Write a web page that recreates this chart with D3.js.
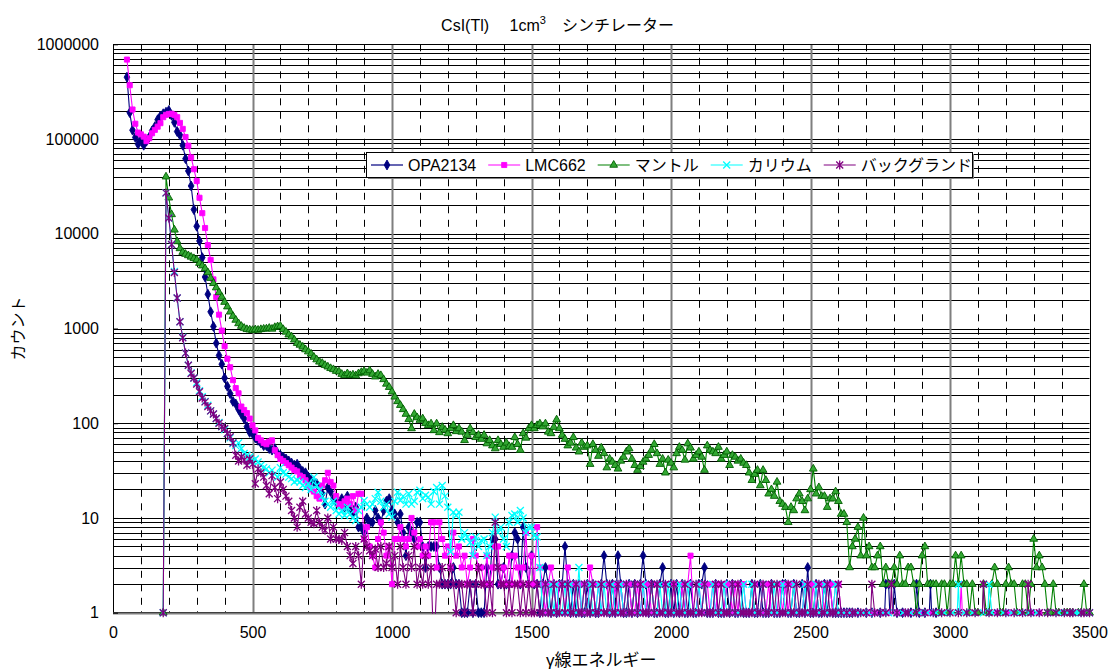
<!DOCTYPE html>
<html>
<head>
<meta charset="utf-8">
<script src="https://cdn.jsdelivr.net/npm/d3@7"></script>
<style>
  body { margin: 0; background: #fff; }
  text { font-family: 'Liberation Sans', 'Noto Sans CJK JP', sans-serif; }
</style>
</head>
<body>
<script>
// --- data: counts per 10 keV channel, each series starts at its own energy ---
const energyStep = 10;

const opaStart = 50;
const opa2134 = [
  450000, 190000, 124000, 104000, 88000, 99000, 86000, 95000, 105000, 122000,
  135000, 160000, 175000, 185000, 192000, 200000, 178000, 150000, 120000, 110000,
  86000, 62000, 46000, 32000, 18000, 12000, 8400, 5600, 3500, 2300,
  1500, 1050, 700, 520, 420, 300, 245, 205, 170, 160,
  140, 125, 112, 92, 80, 78, 70, 66, 62, 58,
  58, 54, 52, 54, 48, 46, 44, 42, 40, 38,
  36, 37, 33, 31, 30, 27, 25, 24, 23, 21,
  18, 14, 21, 19, 16, 15, 14, 16, 13, 17,
  12, 11, 13, 8, 8, 7, 10, 9, 9, 12,
  10, 9, 12, 15, 16, 12, 11, 9, 11, 7,
  4, 8, 7, 6, 9, 9, 5, 3, 5, 5,
  5, 5, 3, 2, 2, 2, 2, 3, 2, 2,
  1, 1, 1, 2, 1, 2, 1, 1, 1, 3,
  2, 6, 6, 2, 2, 3, 2, 2, 4, 7,
  6, 2, 8, 3, 2, 4, 2, 2, 1, 2,
  3, 2, 1, 2, 1, 2, 2, 5, 2, 1,
  2, 1, 2, 1, 1, 2, 1, 2, 1, 1,
  2, 4, 2, 1, 2, 1, 4, 2, 1, 1,
  2, 1, 2, 1, 2, 4, 2, 1, 2, 1,
  1, 2, 3, 1, 1, 2, 1, 2, 1, 2,
  1, 1, 2, 1, 1, 2, 2, 3, 1, 1,
  1, 2, 1, 1, 1, 2, 1, 2, 1, 1,
  2, 1, 1, 1, 2, 1, 1, 2, 1, 1,
  1, 2, 1, 1, 1, 2, 2, 1, 1, 2,
  1, 1, 2, 1, 3, 1, 1, 2, 1, 1,
  2, 1, 2, 1, 1, 1, 1, 1, 1, 1,
  1, 0, 1, 0, 0, 1, 0, 1, 0, 0,
  1, 0, 2, 2, 0, 2, 1, 0, 1, 0,
  0, 1, 0, 2, 1, 0, 1, 0, 2, 0,
  1
];

const lmcStart = 50;
const lmc662 = [
  690000, 370000, 205000, 145000, 117000, 112000, 106000, 95000, 102000, 115000,
  125000, 135000, 147000, 170000, 180000, 184000, 185000, 180000, 170000, 148000,
  128000, 105000, 85000, 64000, 48000, 36000, 24000, 16500, 11500, 7600,
  5300, 3300, 2150, 1400, 950, 650, 480, 390, 285, 235,
  207, 150, 138, 128, 112, 95, 84, 70, 66, 62,
  60, 64, 66, 52, 46, 42, 40, 38, 36, 34,
  32, 31, 28, 27, 25, 22, 20, 19, 17, 16,
  22, 25, 30, 24, 22, 17, 14, 13, 15, 16,
  14, 17, 12, 18, 18, 6, 8, 5, 4, 3,
  6, 9, 7, 4, 5, 2, 6, 6, 8, 6,
  5, 6, 10, 7, 5, 6, 4, 5, 4, 9,
  9, 3, 9, 6, 4, 5, 3, 7, 4, 5,
  3, 4, 2, 3, 6, 4, 3, 3, 2, 4,
  2, 3, 5, 5, 2, 3, 2, 4, 2, 4,
  3, 2, 3, 7, 2, 4, 2, 8, 3, 2,
  1, 2, 3, 2, 1, 2, 2, 1, 3, 2,
  1, 2, 2, 1, 2, 1, 3, 2, 1, 2,
  1, 2, 2, 1, 1, 2, 1, 2, 1, 2,
  2, 1, 1, 2, 1, 2, 1, 2, 1, 1,
  2, 1, 1, 2, 1, 1, 2, 1, 1, 2,
  1, 2, 4, 1, 1, 2, 1, 2, 2, 1,
  2, 1, 2, 2, 1, 2, 2, 1, 2, 1,
  2, 2, 1, 1, 1, 2, 1, 1, 2, 1,
  2, 1, 1, 1, 2, 1, 2, 1, 2, 2,
  1, 1, 1, 2, 2, 1, 2, 1, 2, 2,
  1, 2, 2, 1, 2, 2, 1, 1, 1, 1,
  1, 0, 1, 1, 0, 0, 1, 0, 1, 0,
  0, 1, 0, 1, 0, 0, 1, 0, 0, 1,
  0, 0, 1, 0, 1, 0, 0, 0, 1, 0,
  0, 1, 0, 0, 1, 0, 0, 0, 0, 2,
  0, 0, 1, 0, 0, 1, 0, 0, 0, 1,
  0, 0, 1, 0, 0, 0, 1, 0, 0, 0,
  1, 0, 0, 0, 1, 0, 0, 1, 0, 0,
  0, 1, 0, 0, 0, 1, 0, 0, 1, 0,
  0, 1, 0, 0, 1, 0
];

const mantleStart = 180;
const mantle = [
  1, 40000, 24000, 16000, 11000, 8300, 7000, 6400, 6100, 5900,
  5700, 5500, 5300, 4900, 4600, 4300, 3900, 3400, 3000, 2700,
  2400, 2150, 1900, 1700, 1500, 1350, 1230, 1130, 1060, 1010,
  980, 970, 960, 975, 965, 980, 990, 995, 1010, 990,
  1030, 1050, 1060, 980, 920, 860, 820, 760, 700, 670,
  640, 600, 570, 540, 500, 470, 445, 430, 410, 395,
  380, 370, 355, 350, 330, 320, 335, 320, 325, 318,
  335, 345, 355, 340, 360, 330, 310, 330, 320, 290,
  260, 240, 215, 190, 170, 155, 140, 125, 110, 88,
  125, 115, 108, 112, 100, 95, 99, 84, 99, 80,
  91, 85, 78, 88, 95, 82, 88, 81, 66, 75,
  88, 80, 71, 75, 68, 75, 61, 66, 58, 54,
  66, 60, 56, 62, 57, 56, 71, 60, 52, 78,
  70, 88, 95, 88, 95, 99, 92, 99, 81, 78,
  91, 109, 88, 75, 68, 58, 62, 71, 55, 50,
  62, 56, 58, 37, 60, 52, 45, 55, 48, 34,
  42, 39, 36, 33, 40, 44, 50, 54, 42, 36,
  32, 35, 39, 42, 46, 52, 60, 48, 37, 42,
  30, 41, 38, 34, 48, 56, 52, 41, 61, 55,
  42, 46, 50, 44, 32, 58, 52, 50, 48, 56,
  42, 46, 50, 36, 46, 44, 40, 42, 38, 36,
  30, 25, 29, 32, 22, 32, 25, 18, 20, 17,
  24, 15, 14, 13, 9, 13, 12, 16, 18, 15,
  12, 16, 20, 33, 18, 21, 17, 17, 13, 16,
  16, 19, 15, 11, 11, 9, 3, 5, 6, 8,
  4, 10, 4, 5, 3, 3, 4, 5, 2, 3,
  2, 2, 3, 2, 4, 2, 2, 3, 3, 2,
  1, 2, 4, 5, 2, 2, 2, 2, 1, 2,
  2, 1, 2, 2, 4, 2, 4, 2, 2, 1,
  2, 1, 1, 0, 2, 1, 1, 2, 3, 2,
  1, 1, 2, 3, 2, 2, 1, 0, 2, 2,
  1, 2, 6, 3, 4, 3, 2, 1, 1, 2,
  1, 1, 0, 1, 1, 1, 1, 0, 1, 1,
  2, 1, 1
];

const potassiumStart = 180;
const potassium = [
  1, 27000, 14700, 7700, 4000, 2100, 1180, 810, 550, 410,
  340, 300, 270, 220, 190, 170, 155, 135, 125, 112,
  102, 92, 86, 78, 70, 61, 58, 62, 54, 48,
  46, 44, 40, 42, 39, 36, 34, 33, 30, 32,
  29, 27, 34, 30, 29, 27, 26, 24, 25, 24,
  22, 21, 23, 20, 27, 22, 19.6, 17, 15, 14,
  13, 15, 12, 11, 12, 10.6, 13, 11, 10, 9.4,
  12, 13, 15.3, 14, 13, 14, 16, 18.7, 15, 13,
  14, 11, 10.2, 15, 18.7, 15.3, 17, 14, 18, 14,
  15, 18.7, 19.6, 16, 17.4, 16.6, 14, 19, 21, 14,
  22, 17, 13, 4.4, 11.5, 10.6, 11.5, 6, 7, 6.3,
  5.5, 4, 6.3, 5, 5.8, 6, 4, 5, 7, 10.2,
  7, 8, 6, 5, 9, 10.6, 11, 9, 12, 10,
  7, 8, 8, 6.5, 6.3, 3, 1, 2, 1, 2,
  1, 2, 1, 1, 2, 1, 2, 1, 1, 3,
  1, 2, 1, 2, 1, 1, 2, 1, 2, 1,
  1, 2, 1, 1, 2, 1, 2, 1, 1, 2,
  1, 1, 2, 1, 1, 2, 1, 1, 2, 1,
  1, 2, 1, 1, 1, 2, 1, 1, 2, 1,
  1, 1, 2, 1, 2, 1, 1, 2, 1, 1,
  1, 2, 1, 1, 2, 1, 1, 1, 2, 1,
  1, 2, 1, 1, 1, 2, 1, 1, 1, 2,
  1, 1, 2, 1, 1, 1, 2, 1, 1, 1,
  2, 1, 1, 1, 2, 1, 1, 2, 1, 1,
  1, 2, 1, 1, 1, 0, 1, 0, 1, 1,
  0, 1, 0, 1, 0, 1, 0, 0, 1, 0,
  1, 0, 0, 1, 0, 1, 0, 0, 1, 0,
  0, 1, 0, 0, 1, 0, 0, 1, 0, 0,
  1, 0, 0, 1, 0, 2, 0, 1, 0, 0,
  1, 0, 0, 0, 1, 0, 2, 1, 0, 0,
  0, 1, 0, 0, 1, 0, 0, 1, 0, 0,
  1, 0, 0, 1, 0, 0, 0, 1, 0, 0,
  0, 1, 0, 0, 1, 0, 0, 1, 1, 0,
  1, 0, 1
];

const backgroundStart = 180;
const background = [
  1, 27000, 14700, 7700, 3900, 2100, 1180, 800, 550, 410,
  335, 300, 260, 215, 185, 168, 150, 135, 125, 112,
  100, 92, 88, 78, 72, 62, 46, 40, 44, 41,
  36, 42, 37, 23, 33, 30, 27, 22, 18, 28,
  21, 16, 24, 20, 17, 15, 12, 10, 8, 13,
  15, 11, 10, 9, 8.7, 12, 9, 8, 7.4, 10,
  6, 8, 6, 6, 5.8, 7, 5, 4, 3.3, 5,
  4, 2, 6, 5, 4.5, 4, 4.7, 3, 5, 3,
  3.3, 5, 3, 4, 2, 5, 3, 2, 4, 3,
  5, 2, 3, 2, 4, 2, 3, 0, 2, 2,
  3, 2, 2, 3, 2, 1, 2, 2, 1, 2,
  2, 1, 2, 3, 2, 2, 1, 2, 1, 9,
  3, 2, 2, 1, 2, 1, 2, 2, 1, 2,
  1, 2, 1, 1, 2, 1, 1, 2, 1, 1,
  2, 1, 1, 2, 1, 2, 1, 1, 2, 1,
  1, 2, 1, 1, 2, 1, 1, 2, 1, 1,
  2, 1, 1, 2, 1, 1, 2, 1, 1, 2,
  1, 2, 1, 1, 1, 2, 1, 2, 1, 1,
  2, 1, 1, 2, 1, 1, 1, 2, 1, 1,
  1, 2, 1, 1, 2, 1, 1, 1, 2, 1,
  2, 1, 1, 1, 2, 1, 2, 1, 1, 1,
  1, 1, 2, 1, 1, 2, 1, 1, 2, 1,
  2, 1, 1, 1, 2, 1, 1, 2, 1, 1,
  1, 2, 1, 1, 1, 2, 1, 1, 2, 1,
  1, 1, 2, 1, 0, 1, 0, 1, 1, 0,
  1, 0, 1, 0, 2, 1, 0, 1, 0, 1,
  0, 2, 0, 1, 0, 0, 1, 1, 0, 0,
  1, 0, 0, 1, 0, 0, 1, 0, 0, 1,
  0, 0, 1, 0, 0, 1, 0, 0, 1, 0,
  0, 1, 0, 0, 2, 0, 1, 0, 0, 1,
  0, 0, 1, 0, 0, 1, 0, 0, 1, 0,
  2, 1, 0, 0, 1, 0, 0, 1, 0, 0,
  1, 0, 0, 1, 0, 1, 1, 0, 0, 1,
  1, 0, 1
];

const seriesNames = ['OPA2134', 'LMC662', 'マントル', 'カリウム', 'バックグランド'];
const xTicks = [0, 500, 1000, 1500, 2000, 2500, 3000, 3500];
const yTicks = [1, 10, 100, 1000, 10000, 100000, 1000000];

// --- chart setup ---
const width = 1109;
const height = 671;
const plot = { left: 113, right: 1089.5, top: 44.3, bottom: 612.7 };

const svg = d3.select('body')
  .append('svg')
  .attr('width', width)
  .attr('height', height);

const x = d3.scaleLinear().domain([0, 3500]).range([plot.left, plot.right]);
const y = d3.scaleLog().domain([1, 1000000]).range([plot.bottom, plot.top]);

const snap = (v) => Math.round(v) + 0.5;

// horizontal grid: every 2..9 x 10^n plus the decades
const yGrid = [];
yTicks.slice(0, -1).forEach((d) => { for (let m = 1; m < 10; m++) yGrid.push(d * m); });

svg.append('g')
  .selectAll('line')
  .data(yGrid.filter((d) => d > 1))
  .join('line')
  .attr('x1', plot.left)
  .attr('x2', plot.right)
  .attr('y1', (d) => snap(y(d)))
  .attr('y2', (d) => snap(y(d)))
  .attr('stroke', '#000')
  .attr('stroke-width', 1);

// vertical grid: dashed every 100, solid grey every 500
const xGrid = d3.range(100, 3500, 100);
svg.append('g')
  .selectAll('line')
  .data(xGrid)
  .join('line')
  .attr('x1', (d) => snap(x(d)))
  .attr('x2', (d) => snap(x(d)))
  .attr('y1', plot.top)
  .attr('y2', plot.bottom)
  .attr('stroke', (d) => (d % 500 === 0 ? '#7f7f7f' : '#000'))
  .attr('stroke-width', (d) => (d % 500 === 0 ? 2 : 1))
  .attr('stroke-dasharray', (d) => (d % 500 === 0 ? null : '7,6.5'));

// plot frame
svg.append('rect')
  .attr('x', snap(plot.left))
  .attr('y', snap(plot.top))
  .attr('width', Math.round(plot.right - plot.left))
  .attr('height', Math.round(plot.bottom - plot.top))
  .attr('fill', 'none')
  .attr('stroke', '#000')
  .attr('stroke-width', 1);

svg.append('line')
  .attr('x1', plot.left).attr('x2', plot.right)
  .attr('y1', snap(plot.bottom)).attr('y2', snap(plot.bottom))
  .attr('stroke', '#7f7f7f').attr('stroke-width', 2);

// axes
const xAxis = svg.append('g')
  .attr('transform', `translate(0, ${plot.bottom})`)
  .call(d3.axisBottom(x).tickValues(xTicks).tickSize(0).tickPadding(14).tickFormat(d3.format('d')));
xAxis.select('.domain').remove();
xAxis.selectAll('text')
  .attr('font-size', 16)
  .attr('fill', '#000')
  .style('font-family', "'Liberation Sans', sans-serif");

const yAxis = svg.append('g')
  .attr('transform', `translate(${plot.left}, 0)`)
  .call(d3.axisLeft(y).tickValues(yTicks).tickSize(-5).tickPadding(14).tickFormat(d3.format('d')));
yAxis.select('.domain').remove();
yAxis.selectAll('line').attr('stroke', '#000');
yAxis.selectAll('text')
  .attr('font-size', 16)
  .attr('fill', '#000')
  .style('font-family', "'Liberation Sans', sans-serif");

// --- markers ---
const markerShapes = {
  diamond: { path: d3.symbol(d3.symbolDiamond, 28)(), filled: true },
  square: { path: d3.symbol(d3.symbolSquare, 26)(), filled: true },
  triangle: { path: d3.symbol(d3.symbolTriangle, 26)(), filled: true },
  cross: { path: 'M-3.5,-3.5L3.5,3.5M-3.5,3.5L3.5,-3.5', filled: false },
  star: { path: 'M-3.5,-3.5L3.5,3.5M-3.5,3.5L3.5,-3.5M0,-4.5L0,4.5', filled: false }
};

const series = [
  { name: seriesNames[0], start: opaStart, values: opa2134, color: '#000080', fill: '#000080', marker: 'diamond' },
  { name: seriesNames[1], start: lmcStart, values: lmc662, color: '#ff00ff', fill: '#ff00ff', marker: 'square' },
  { name: seriesNames[2], start: mantleStart, values: mantle, color: '#008000', fill: '#33a833', stroke: '#005f00', marker: 'triangle' },
  { name: seriesNames[3], start: potassiumStart, values: potassium, color: '#00ffff', fill: 'none', marker: 'cross' },
  { name: seriesNames[4], start: backgroundStart, values: background, color: '#800080', fill: 'none', marker: 'star' }
];

svg.append('clipPath')
  .attr('id', 'plot-clip')
  .append('rect')
  .attr('x', plot.left)
  .attr('y', plot.top)
  .attr('width', plot.right - plot.left)
  .attr('height', plot.bottom - plot.top + 1);

// zero counts drop off the bottom of the log axis, like the spreadsheet does
const yPos = (v) => (v > 0 ? y(v) : plot.bottom + 40);

const line = d3.line()
  .x((d) => x(d.e))
  .y((d) => yPos(d.v));

function drawMarker(sel, s) {
  const shape = markerShapes[s.marker];
  sel.attr('d', shape.path)
    .attr('fill', shape.filled ? s.fill : 'none')
    .attr('stroke', s.stroke || s.color)
    .attr('stroke-width', shape.filled ? 0.9 : 1.3);
}

series.forEach((s) => {
  const pts = s.values.map((v, i) => ({ e: s.start + i * energyStep, v }));
  const g = svg.append('g');

  g.append('path')
    .datum(pts)
    .attr('clip-path', 'url(#plot-clip)')
    .attr('fill', 'none')
    .attr('stroke', s.color)
    .attr('stroke-width', 1.1)
    .attr('d', line);

  g.selectAll('path.mk')
    .data(pts.filter((d) => d.v > 0))
    .join('path')
    .attr('class', 'mk')
    .attr('transform', (d) => `translate(${x(d.e)},${y(d.v)})`)
    .call(drawMarker, s);
});

// --- legend ---
const legend = svg.append('g');
const legendBox = { x: 366, y: 152, w: 606, h: 25 };
legend.append('rect')
  .attr('x', legendBox.x + 2).attr('y', legendBox.y + 2)
  .attr('width', legendBox.w).attr('height', legendBox.h)
  .attr('fill', '#7f7f7f');
legend.append('rect')
  .attr('x', legendBox.x + 0.5).attr('y', legendBox.y + 0.5)
  .attr('width', legendBox.w).attr('height', legendBox.h)
  .attr('fill', '#fff').attr('stroke', '#000');

let lx = legendBox.x + 5;
const ly = legendBox.y + legendBox.h / 2 + 0.5;
series.forEach((s) => {
  legend.append('line')
    .attr('x1', lx).attr('x2', lx + 32)
    .attr('y1', ly).attr('y2', ly)
    .attr('stroke', s.color).attr('stroke-width', 1.2);
  legend.append('path')
    .attr('transform', `translate(${lx + 16},${ly})`)
    .call(drawMarker, s);
  const t = legend.append('text')
    .attr('x', lx + 37)
    .attr('y', ly + 6)
    .attr('font-size', 16)
    .text(s.name);
  lx += 37 + t.node().getComputedTextLength() + 12;
});

// --- titles ---
const title = svg.append('text')
  .attr('x', width / 2 + 3)
  .attr('y', 31)
  .attr('text-anchor', 'middle')
  .attr('font-size', 16);
title.append('tspan').text('CsI(Tl)\u3000 1cm');
title.append('tspan').attr('dy', -7).attr('font-size', 11).text('3');
title.append('tspan').attr('dy', 7).text('\u3000シンチレーター');

svg.append('text')
  .attr('x', (plot.left + plot.right) / 2)
  .attr('y', 666)
  .attr('text-anchor', 'middle')
  .attr('font-size', 17)
  .text('γ線エネルギー');

svg.append('text')
  .attr('transform', `translate(24, ${(plot.top + plot.bottom) / 2}) rotate(-90)`)
  .attr('text-anchor', 'middle')
  .attr('font-size', 16)
  .text('カウント');
</script>
</body>
</html>
